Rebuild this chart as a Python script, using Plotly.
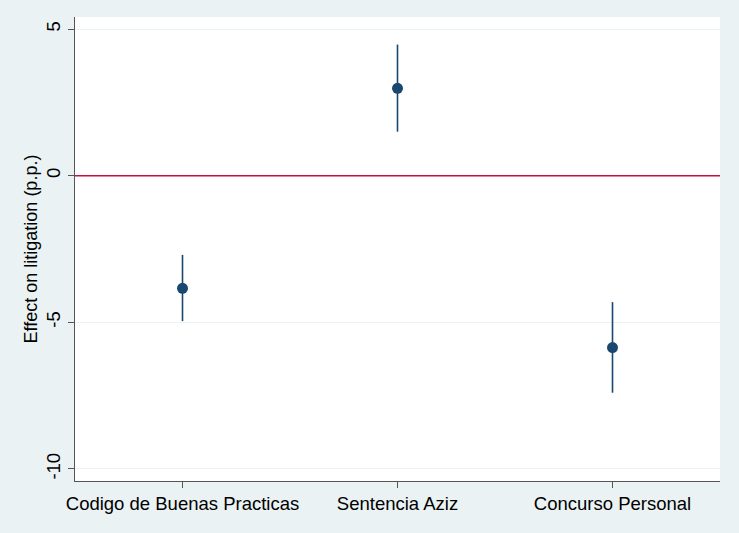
import plotly.graph_objects as go

# Estimated effects with 95% confidence bounds
categories = ["Codigo de Buenas Practicas", "Sentencia Aziz", "Concurso Personal"]
estimates = [-3.84, 2.98, -5.86]
ci_upper = [-2.70, 4.47, -4.31]
ci_lower = [-4.96, 1.50, -7.40]
y_ticks = [5, 0, -5, -10]

positions = list(range(1, len(categories) + 1))
err_plus = [u - e for u, e in zip(ci_upper, estimates)]
err_minus = [e - l for e, l in zip(estimates, ci_lower)]

navy = "#1A476F"
fig = go.Figure()
fig.add_trace(go.Scatter(
    x=positions, y=estimates, mode="markers",
    marker=dict(color=navy, size=11),
    error_y=dict(type="data", array=err_plus, arrayminus=err_minus,
                 color=navy, thickness=1.6, width=0),
    showlegend=False,
))

# Reference line at zero
fig.add_hline(y=0, line=dict(color="#C8103C", width=1.4))

axis_font = dict(family="Liberation Sans, Arial, sans-serif", size=18.5, color="#000000")
fig.update_layout(
    width=739, height=533,
    paper_bgcolor="#EAF2F3", plot_bgcolor="#FFFFFF",
    margin=dict(l=75, r=19, t=17, b=52),
    font=axis_font,
    xaxis=dict(
        range=[0.5, 3.5], tickvals=positions, ticktext=categories,
        showgrid=False, zeroline=False,
        showline=True, linecolor="#555555", linewidth=1.3,
        ticks="outside", ticklen=6, tickcolor="#555555", tickwidth=1,
        tickfont=axis_font,
    ),
    yaxis=dict(
        range=[-10.41, 5.41], tickvals=y_ticks, ticktext=[str(v) for v in y_ticks],
        tickangle=-90,
        showgrid=True, gridcolor="#EAF2F3", gridwidth=1.2, zeroline=False,
        showline=True, linecolor="#555555", linewidth=1.3,
        ticks="outside", ticklen=6, tickcolor="#555555", tickwidth=1,
        tickfont=axis_font,
        title=dict(text="Effect on litigation (p.p.)", font=dict(size=18), standoff=1),
    ),
)

fig.write_html("out.html")
